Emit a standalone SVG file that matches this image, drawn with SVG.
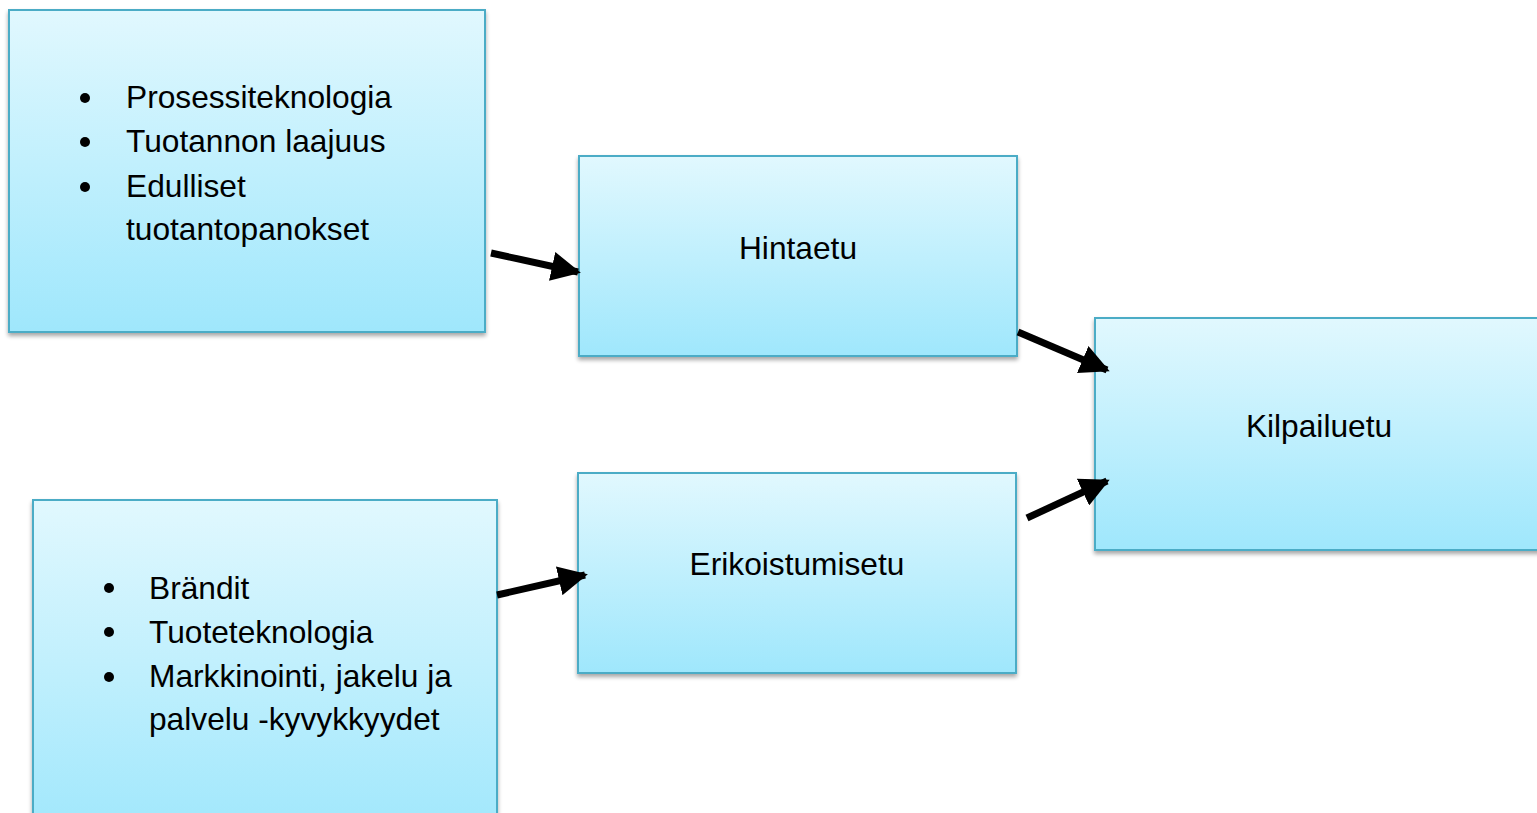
<svg xmlns="http://www.w3.org/2000/svg" width="1537" height="813" viewBox="0 0 1537 813">
<defs>
<linearGradient id="g" x1="0" y1="0" x2="0" y2="1">
<stop offset="0" stop-color="#e1f8fe"/>
<stop offset="1" stop-color="#9fe7fc"/>
</linearGradient>
<filter id="sh" x="-5%" y="-5%" width="110%" height="115%">
<feGaussianBlur in="SourceAlpha" stdDeviation="2"/>
<feOffset dx="0" dy="3"/>
<feComponentTransfer><feFuncA type="linear" slope="0.35"/></feComponentTransfer>
<feMerge><feMergeNode/><feMergeNode in="SourceGraphic"/></feMerge>
</filter>
<marker id="ah" viewBox="0 0 10 10" refX="9" refY="5" markerWidth="4.2" markerHeight="4.2" orient="auto" markerUnits="strokeWidth">
<path d="M0,0 L10,5 L0,10 Z" fill="#000"/>
</marker>
</defs>
<style>
.box{fill:url(#g);stroke:#4bacc6;stroke-width:2;filter:url(#sh)}
.t{font-family:"Liberation Sans",Arial,sans-serif;font-size:31.7px;fill:#000}
.c{text-anchor:middle}
.conn{stroke:#000;stroke-width:7;fill:none;marker-end:url(#ah)}
</style>
<rect width="1537" height="813" fill="#fff"/>
<g id="node-top-left">
<rect class="box" x="9" y="10" width="476" height="322"/>
<circle cx="85" cy="98" r="5"/>
<circle cx="85" cy="142" r="5"/>
<circle cx="85" cy="187" r="5"/>
<text class="t" x="126" y="108">Prosessiteknologia</text>
<text class="t" x="126" y="152">Tuotannon laajuus</text>
<text class="t" x="126" y="197">Edulliset</text>
<text class="t" x="126" y="240">tuotantopanokset</text>
</g>
<g id="node-hintaetu">
<rect class="box" x="579" y="156" width="438" height="200"/>
<text class="t c" x="798" y="259">Hintaetu</text>
</g>
<g id="node-kilpailuetu">
<rect class="box" x="1095" y="318" width="460" height="232"/>
<text class="t c" x="1319" y="437">Kilpailuetu</text>
</g>
<g id="node-erikoistumisetu">
<rect class="box" x="578" y="473" width="438" height="200"/>
<text class="t c" x="797" y="575">Erikoistumisetu</text>
</g>
<g id="node-bottom-left">
<rect class="box" x="33" y="500" width="464" height="340"/>
<circle cx="109" cy="588" r="5"/>
<circle cx="109" cy="632" r="5"/>
<circle cx="109" cy="677" r="5"/>
<text class="t" x="149" y="599">Brändit</text>
<text class="t" x="149" y="643">Tuoteteknologia</text>
<text class="t" x="149" y="687">Markkinointi, jakelu ja</text>
<text class="t" x="149" y="730">palvelu -kyvykkyydet</text>
</g>
<g id="connectors">
<line class="conn" x1="491" y1="253" x2="578" y2="272"/>
<line class="conn" x1="1018" y1="332" x2="1107" y2="370"/>
<line class="conn" x1="1027" y1="518" x2="1107" y2="481"/>
<line class="conn" x1="497" y1="595" x2="585" y2="575"/>
</g>
</svg>
